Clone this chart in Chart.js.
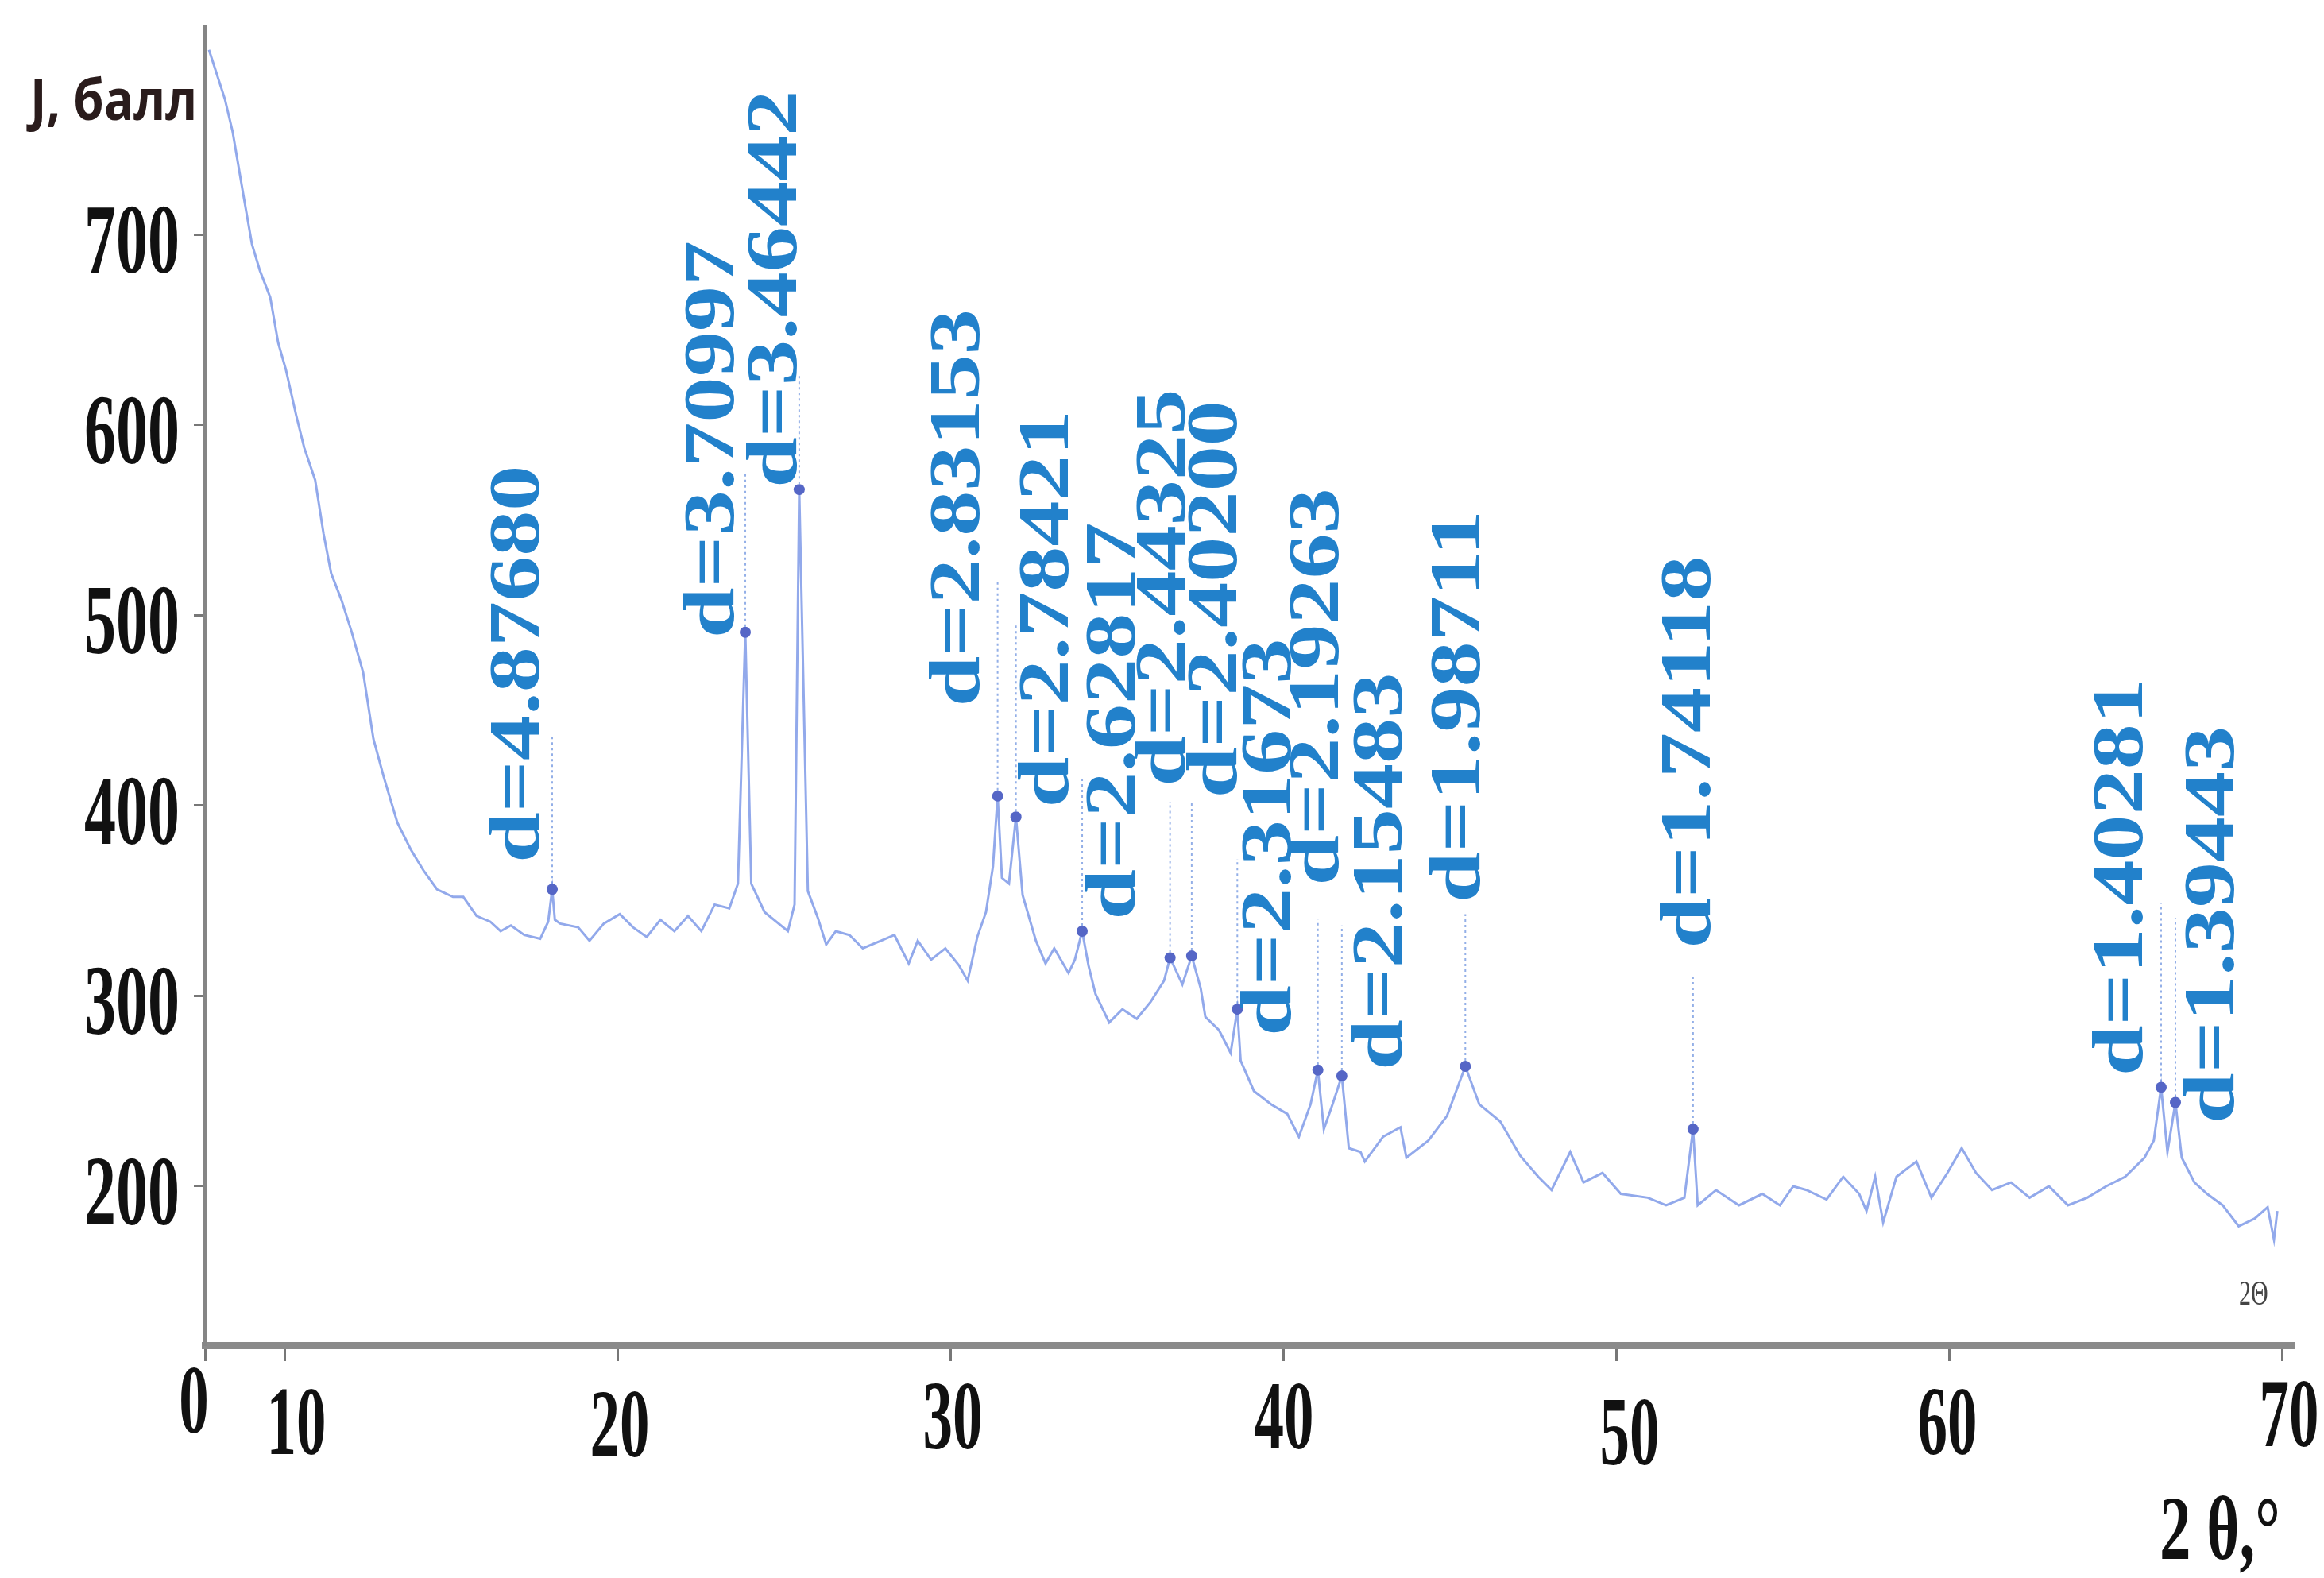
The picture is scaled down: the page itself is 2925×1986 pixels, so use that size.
<!DOCTYPE html>
<html>
<head>
<meta charset="utf-8">
<script src="https://cdn.jsdelivr.net/npm/chart.js@4.4.1/dist/chart.umd.min.js"></script>
<style>
  html, body { margin: 0; padding: 0; background: #fff; }
  #xrd { display: block; }
</style>
</head>
<body>
<canvas id="xrd" width="2925" height="1986"></canvas>
<script>
// diffractogram, 2θ in degrees / intensity
const twoTheta = [
  7.71, 8.19, 8.42, 8.76, 9.0, 9.24, 9.55, 9.79, 10.02, 10.33, 10.57, 10.9, 11.15, 11.38, 11.69,
  12.0, 12.34, 12.65, 12.96, 13.37, 13.77, 14.15, 14.56, 15.04, 15.35, 15.75, 16.16, 16.47, 16.78,
  17.18, 17.66, 17.9, 18.02, 18.1, 18.26, 18.8, 19.14, 19.57, 20.05, 20.45, 20.86, 21.27, 21.69,
  22.1, 22.5, 22.9, 23.34, 23.6, 23.82, 24.0, 24.4, 25.1, 25.3, 25.44, 25.7, 26.0, 26.25, 26.54,
  26.95, 27.35, 27.9, 28.3, 28.73, 29.0, 29.4, 29.83, 30.24, 30.5, 30.79, 31.05, 31.26, 31.4,
  31.53, 31.74, 31.95, 32.15, 32.55, 32.84, 33.1, 33.53, 33.72, 33.94, 34.13, 34.34, 34.75, 35.15,
  35.58, 36.0, 36.4, 36.58, 36.95, 37.23, 37.5, 37.64, 38.05, 38.4, 38.6, 38.7, 39.1, 39.62, 40.1,
  40.45, 40.8, 41.02, 41.2, 41.46, 41.74, 41.95, 42.3, 42.43, 42.98, 43.5, 43.68, 44.34, 44.9,
  45.45, 45.87, 46.5, 47.1, 47.64, 48.04, 48.6, 49.0, 49.57, 50.12, 50.93, 51.48, 52.03, 52.29,
  52.43, 52.98, 53.67, 54.37, 54.9, 55.3, 55.7, 56.3, 56.8, 57.28, 57.5, 57.76, 58.0, 58.4, 59.0,
  59.45, 59.93, 60.36, 60.79, 61.27, 61.84, 62.4, 62.98, 63.55, 64.13, 64.7, 65.27, 65.85, 66.13,
  66.35, 66.54, 66.78, 66.97, 67.35, 67.73, 68.2, 68.68, 69.16, 69.55, 69.74, 69.84
]
const intensity = [
  797, 771, 754, 719, 695, 681, 667, 643, 629, 605, 588, 571, 543, 522, 508,
  491, 470, 435, 415, 391, 377, 366, 356, 352, 352, 342, 339, 334, 337,
  332, 330, 339, 356, 340, 338, 336, 329, 338, 343, 336, 331, 340, 334,
  342, 334, 348, 346, 359, 491, 359, 344, 334, 348, 566, 355, 341, 327, 334,
  332, 325, 329, 332, 317, 329, 319, 325, 316, 308, 331, 344, 368, 405,
  362, 359, 394, 353, 329, 317, 325, 312, 319, 334, 316, 301, 286, 293,
  288, 297, 308, 320, 306, 321, 304, 289, 282, 270, 293, 266, 250, 243, 238,
  226, 243, 261, 230, 243, 258, 220, 218, 213, 226, 231, 215, 224, 237,
  263, 243, 234, 216, 205, 198, 218, 202, 207, 196, 194, 190, 194, 230,
  190, 198, 190, 196, 190, 200, 198, 193, 205, 196, 187, 205, 181, 205, 213,
  194, 207, 220, 207, 198, 202, 194, 200, 190, 194, 200, 205, 215, 224,
  252, 218, 244, 215, 202, 196, 190, 179, 183, 189, 172, 187
]

// marked reflections
const peakX = [18.02, 23.82, 25.44, 31.4, 31.95, 33.94, 36.58, 37.23, 38.6, 41.02, 41.74, 45.45, 52.29, 66.35, 66.78]
const peakY = [356, 491, 566, 405, 394, 334, 320, 321, 293, 261, 258, 263, 230, 252, 244]
const peakLabels = [
  'd=4.87680', 'd=3.70997', 'd=3.46442', 'd=2.83153', 'd=2.78421', 'd=2.62817', 'd=2.44325',
  'd=2.40200', 'd=2.31673', 'd=2.19263', 'd=2.15483', 'd=1.98711', 'd=1.74118', 'd=1.40281', 'd=1.39443'
]

const yTicks = [200, 300, 400, 500, 600, 700]
const xTicks = [10, 20, 30, 40, 50, 60, 70]
const xTickLabels = ['0', '10', '20', '30', '40', '50', '60', '70']
const xRange = [7.59, 70.36]
const yRange = [116.5, 809]

// where each d-label sits: [text centre offset from peak, px], [text foot, J], [leader top, J]
const labelDx = [-47, -45, -34, -54, 35, 36, -12, 26, 37, -5, 45, -12, -9, -54, 43]
const labelFoot = [370, 488, 567, 452, 399, 340, 410, 404, 279, 358, 261, 349, 325, 258, 233]
const leaderTop = [437, 575, 627, 519, 495, 416, 402, 402, 372, 340, 337, 343, 312, 349, 341]
// small shifts of the x tick labels, as in the scan
const xLabelShift = [[-14, -22], [14, 5], [2, 8], [2, -2], [0, -2], [16, 18], [-3, 5], [8, -5]]

const serif = '"Liberation Serif", "Times New Roman", serif'

const leaderData = []
peakX.forEach((x, i) => {
  leaderData.push({ x: x, y: peakY[i] }, { x: x, y: leaderTop[i] }, { x: x, y: null })
})

function stretchedText(ctx, text, x, y, sx, sy, align) {
  ctx.save()
  ctx.translate(x, y)
  ctx.scale(sx, sy)
  ctx.textAlign = align
  ctx.textBaseline = 'alphabetic'
  ctx.fillText(text, 0, 0)
  ctx.restore()
}

const xrdText = {
  id: 'xrdText',
  afterDraw(chart) {
    const ctx = chart.ctx
    const xs = chart.scales.x
    const ys = chart.scales.y

    // y tick labels
    ctx.fillStyle = '#111'
    ctx.font = 'bold 80px ' + serif
    yTicks.forEach(v => {
      stretchedText(ctx, String(v), xs.left - 32, ys.getPixelForValue(v) + 48, 1, 1.57, 'right')
    })

    // x tick labels, first one sits at the axis origin
    ctx.font = 'bold 75px ' + serif
    const xVals = [xRange[0]].concat(xTicks)
    xVals.forEach((v, i) => {
      const px = xs.getPixelForValue(v) + xLabelShift[i][0]
      stretchedText(ctx, xTickLabels[i], px, ys.bottom + 132 + xLabelShift[i][1], 1, 1.65, 'center')
    })

    // axis titles
    ctx.fillStyle = '#2a1c1c'
    ctx.font = 'bold 62px "Open Sans", "Liberation Sans", sans-serif'
    stretchedText(ctx, 'J, балл', 38, 151, 1, 1.15, 'left')

    ctx.fillStyle = '#111'
    ctx.font = 'bold 79px ' + serif
    stretchedText(ctx, '2 θ,°', 2718, 1962, 1, 1.45, 'left')

    ctx.fillStyle = '#444'
    ctx.font = '30px ' + serif
    stretchedText(ctx, '2Θ', 2818, 1642, 1, 1.5, 'left')

    // rotated d-spacing labels
    ctx.fillStyle = '#2281cb'
    ctx.font = 'bold 90px ' + serif
    peakX.forEach((x, i) => {
      const cx = xs.getPixelForValue(x) + labelDx[i]
      const foot = ys.getPixelForValue(labelFoot[i])
      ctx.save()
      ctx.translate(cx + 30, foot)
      ctx.rotate(-Math.PI / 2)
      ctx.scale(1.27, 1)
      ctx.textAlign = 'left'
      ctx.textBaseline = 'alphabetic'
      ctx.fillText(peakLabels[i], 0, 0)
      ctx.restore()
    })
  }
}

const ctx = document.getElementById('xrd').getContext('2d')

let xrdChart = new Chart(ctx, {
  type: 'line',
  data: {
    datasets: [{
      data: peakX.map((x, i) => ({ x: x, y: peakY[i] })),
      showLine: false,
      pointRadius: 7,
      pointBackgroundColor: '#5566c6',
      pointBorderWidth: 0,
      order: 0
    }, {
      data: twoTheta.map((x, i) => ({ x: x, y: intensity[i] })),
      borderColor: 'rgba(110, 140, 228, 0.75)',
      borderWidth: 3,
      pointRadius: 0,
      tension: 0,
      order: 1
    }, {
      data: leaderData,
      borderColor: 'rgba(120, 155, 225, 0.8)',
      borderWidth: 2,
      borderDash: [3, 4],
      pointRadius: 0,
      spanGaps: false,
      order: 2
    }]
  },
  options: {
    responsive: false,
    animation: false,
    layout: { padding: { left: 244, right: 37, top: 34, bottom: 273 } },
    plugins: {
      legend: { display: false },
      tooltip: { enabled: false }
    },
    scales: {
      x: {
        type: 'linear',
        min: xRange[0],
        max: xRange[1],
        afterBuildTicks: s => { s.ticks = [xRange[0]].concat(xTicks).map(v => ({ value: v })) },
        ticks: { display: false },
        grid: { display: true, drawOnChartArea: false, drawTicks: true, tickLength: 20, tickWidth: 3, tickColor: '#777' },
        border: { display: true, color: '#8a8a8a', width: 9 }
      },
      y: {
        type: 'linear',
        min: yRange[0],
        max: yRange[1],
        afterBuildTicks: s => { s.ticks = yTicks.map(v => ({ value: v })) },
        ticks: { display: false },
        grid: { display: true, drawOnChartArea: false, drawTicks: true, tickLength: 14, tickWidth: 3, tickColor: '#777' },
        border: { display: true, color: '#858585', width: 6 }
      }
    }
  },
  plugins: [xrdText]
})
</script>
</body>
</html>
